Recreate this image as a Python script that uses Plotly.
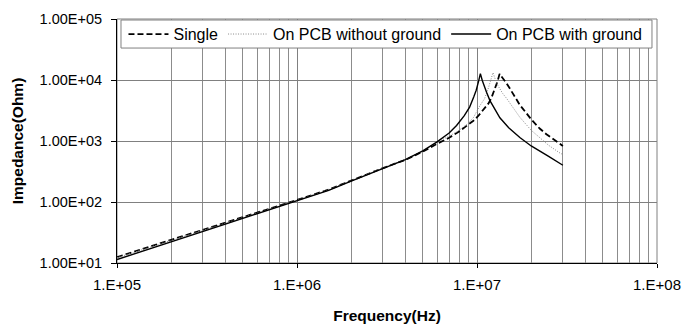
import plotly.graph_objects as go

# ---- data ----
single_f = [1e5, 1.5e5, 2e5, 3e5, 4e5, 5e5, 7e5, 1e6, 1.5e6, 2e6, 3e6, 4e6, 5e6, 6e6,
            7e6, 8e6, 9e6, 9.55e6, 1.013e7, 1.08e7, 1.156e7, 1.2e7, 1.25e7, 1.3e7, 1.335e7,
            1.4e7, 1.46e7, 1.52e7, 1.6e7, 1.73e7, 2e7, 2.23e7, 2.43e7, 2.7e7, 3e7]
single_z = [12.5, 18, 24, 35, 45.5, 56.5, 77.5, 108, 160, 226, 360, 490, 670, 900,
            1130, 1450, 1850, 2150, 2550, 3200, 4100, 5000, 6750, 9500, 12600,
            10500, 8800, 7300, 5600, 3900, 2270, 1600, 1290, 1030, 830]

nognd_f = [1e5, 1.5e5, 2e5, 3e5, 4e5, 5e5, 7e5, 1e6, 1.5e6, 2e6, 3e6, 4e6, 5e6, 6e6,
           7e6, 7.7e6, 8.8e6, 9.55e6, 1.035e7, 1.1e7, 1.15e7, 1.2e7, 1.227e7,
           1.26e7, 1.3e7, 1.39e7, 1.46e7, 1.6e7, 1.73e7, 2e7, 2.5e7, 2.9e7, 3e7]
nognd_z = [12.2, 17.8, 23.5, 34.5, 45, 56, 77, 107, 159, 226, 362, 495, 690, 950,
           1220, 1400, 1880, 2420, 3750, 4900, 7000, 10700, 13200,
           10500, 8300, 6000, 5000, 3400, 2450, 1500, 850, 630, 600]

gnd_f = [1e5, 1.5e5, 2e5, 3e5, 4e5, 5e5, 7e5, 1e6, 1.5e6, 2e6, 3e6, 4e6, 5e6, 6e6,
         7e6, 7.7e6, 8.5e6, 9.1e6, 9.6e6, 9.9e6, 1.02e7, 1.044e7, 1.07e7, 1.1e7,
         1.13e7, 1.18e7, 1.26e7, 1.34e7, 1.39e7, 1.5e7, 1.73e7, 2e7, 2.5e7, 3e7]
gnd_z = [11.4, 17, 22.5, 33, 43.5, 54, 74.5, 104, 155, 220, 355, 495, 690, 970,
         1350, 1800, 2600, 3600, 5300, 6800, 9500, 12700, 9800, 7600,
         6300, 4600, 3200, 2400, 2130, 1650, 1140, 830, 560, 400]

series_names = ["Single", "On PCB without ground", "On PCB with ground"]

x_tickvals = [1e5, 1e6, 1e7, 1e8]
x_ticktext = ["1.E+05", "1.E+06", "1.E+07", "1.E+08"]
y_tickvals = [1e1, 1e2, 1e3, 1e4, 1e5]
y_ticktext = ["1.00E+01", "1.00E+02", "1.00E+03", "1.00E+04", "1.00E+05"]

FONT = "Liberation Sans, Arial, sans-serif"

fig = go.Figure()
fig.add_trace(go.Scatter(x=single_f, y=single_z, mode="lines", name=series_names[0],
                         line=dict(color="black", width=1.8, dash="6px,3px")))
fig.add_trace(go.Scatter(x=nognd_f, y=nognd_z, mode="lines", name=series_names[1],
                         line=dict(color="#8a8a8a", width=1, dash="1px,1.5px")))
fig.add_trace(go.Scatter(x=gnd_f, y=gnd_z, mode="lines", name=series_names[2],
                         line=dict(color="black", width=1.4)))

# minor vertical grid positions (2..9 per decade)
minor_x = [m * 10 ** d for d in range(5, 8) for m in range(2, 10)]

fig.update_layout(
    width=694, height=325,
    margin=dict(l=117, r=37, t=19, b=62, autoexpand=False),
    paper_bgcolor="white", plot_bgcolor="white",
    font=dict(family=FONT, size=14, color="black"),
    showlegend=True,
    legend=dict(orientation="h", x=0.012, y=0.938, xanchor="left", yanchor="middle",
                bgcolor="rgba(0,0,0,0)", borderwidth=0,
                font=dict(family=FONT, size=16, color="black"),
                itemwidth=40, tracegroupgap=0),
    xaxis=dict(type="log", range=[5, 8], tickvals=x_tickvals, ticktext=x_ticktext,
               automargin=False,
               showgrid=True, gridcolor="#808080", gridwidth=1,
               minor=dict(tickvals=minor_x, showgrid=True, gridcolor="#8c8c8c", gridwidth=1,
                          ticks=""),
               ticks="outside", ticklen=4, tickcolor="black", ticklabelstandoff=4,
               showline=True, linecolor="black", linewidth=1, mirror=False,
               tickfont=dict(family=FONT, size=15),
               title=dict(text="<b>Frequency(Hz)</b>", font=dict(family=FONT, size=15.5), standoff=18),
               zeroline=False),
    yaxis=dict(type="log", range=[1, 5], tickvals=y_tickvals, ticktext=y_ticktext,
               automargin=False,
               showgrid=True, gridcolor="#808080", gridwidth=1,
               ticks="outside", ticklen=5, tickcolor="black", ticklabelstandoff=6,
               showline=True, linecolor="black", linewidth=1,
               tickfont=dict(family=FONT, size=14.5),
               title=dict(text="<b>Impedance(Ohm)</b>", font=dict(family=FONT, size=15.5), standoff=12),
               zeroline=False),
)

# grey frame on the top and right of the plot area
fig.add_shape(type="rect", xref="paper", yref="paper", x0=0, y0=0, x1=1, y1=1,
              line=dict(color="#808080", width=1), layer="below")
# legend box
fig.add_shape(type="rect", xref="paper", yref="paper", x0=0.0074, x1=0.9907, y0=0.881, y1=0.9959,
              line=dict(color="#808080", width=1), fillcolor="white", layer="above")

fig.write_html("out.html", config={"displayModeBar": False},
               post_script="document.body.style.margin='0px';")
